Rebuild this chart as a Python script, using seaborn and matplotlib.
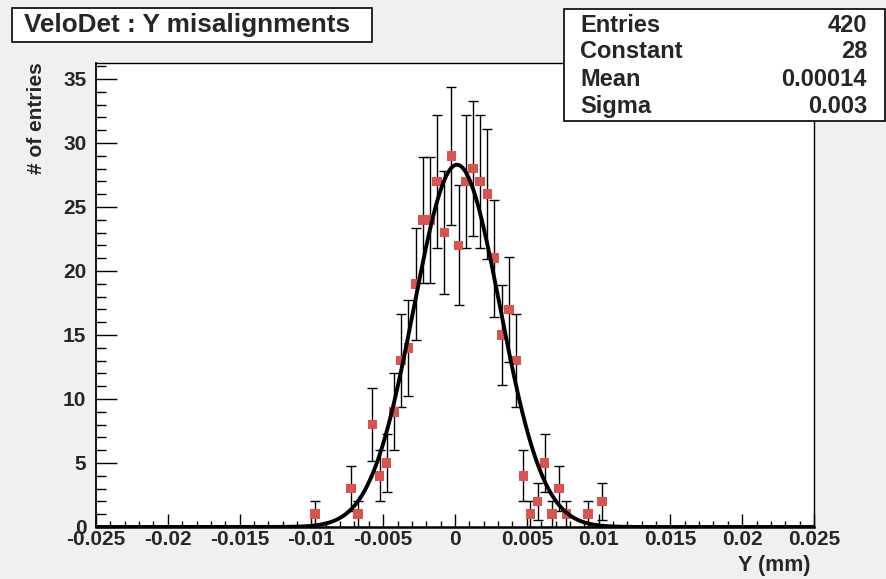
import numpy as np
import pandas as pd
import matplotlib
matplotlib.use("Agg")
import matplotlib.pyplot as plt
from matplotlib.ticker import MultipleLocator, FixedLocator, FixedFormatter
import seaborn as sns

# histogram bins that have entries (bin width 0.0005)
bin_centers = [-0.00975, -0.00725, -0.00675, -0.00575, -0.00525, -0.00475, -0.00425,
               -0.00375, -0.00325, -0.00275, -0.00225, -0.00175, -0.00125, -0.00075,
               -0.00025, 0.00025, 0.00075, 0.00125, 0.00175, 0.00225, 0.00275,
               0.00325, 0.00375, 0.00425, 0.00475, 0.00525, 0.00575, 0.00625,
               0.00675, 0.00725, 0.00775, 0.00925, 0.01025]
counts = [1, 3, 1, 8, 4, 5, 9,
          13, 14, 19, 24, 24, 27, 23,
          29, 22, 27, 28, 27, 26, 21,
          15, 17, 13, 4, 1, 2, 5,
          1, 3, 1, 1, 2]

# gaussian fit parameters (as printed in the stats box)
fit_constant = 28.3
fit_mean = 0.00014
fit_sigma = 0.003

stats_names = ["Entries", "Constant", "Mean", "Sigma"]
stats_values = ["420", "28", "0.00014", "0.003"]

xtick_values = [-0.025, -0.02, -0.015, -0.01, -0.005, 0, 0.005, 0.01, 0.015, 0.02, 0.025]
xtick_labels = ["-0.025", "-0.02", "-0.015", "-0.01", "-0.005", "0",
                "0.005", "0.01", "0.015", "0.02", "0.025"]
ytick_values = [0, 5, 10, 15, 20, 25, 30, 35]

sns.set_theme(style="ticks")
plt.rcParams['font.family'] = ['Liberation Sans', 'DejaVu Sans']
plt.rcParams['font.weight'] = 'bold'

W, H = 886, 579
fig = plt.figure(figsize=(W / 100, H / 100), dpi=100)
fig.patch.set_facecolor('#f0f0f0')

# axes box in pixels: x 96..814, y 63..527
ax = fig.add_axes([96 / W, (H - 527) / H, (814 - 96) / W, (527 - 63) / H])
ax.set_facecolor('white')

df = pd.DataFrame({'y': bin_centers, 'n': counts})
df['err'] = np.sqrt(df['n'])

# fit curve over full range
xs = np.linspace(-0.025, 0.025, 1001)
fit_df = pd.DataFrame({'y': xs,
                       'f': fit_constant * np.exp(-0.5 * ((xs - fit_mean) / fit_sigma) ** 2)})

ax.errorbar(df['y'], df['n'], yerr=df['err'], fmt='none', ecolor='black',
            elinewidth=1.0, capsize=3.5, capthick=1.0, zorder=2)
sns.scatterplot(data=df, x='y', y='n', marker='s', s=46, color='#d9534f',
                edgecolor='none', ax=ax, zorder=3)
sns.lineplot(data=fit_df, x='y', y='f', color='black', linewidth=2.8, ax=ax, zorder=4)

ax.set_xlim(-0.025, 0.025)
ax.set_ylim(0, 36.25)

ax.xaxis.set_major_locator(FixedLocator(xtick_values))
ax.xaxis.set_major_formatter(FixedFormatter(xtick_labels))
ax.xaxis.set_minor_locator(MultipleLocator(0.001))
ax.yaxis.set_major_locator(FixedLocator(ytick_values))
ax.yaxis.set_minor_locator(MultipleLocator(1))

ax.tick_params(axis='x', which='major', direction='in', length=9.5, width=1,
               labelsize=15, pad=2, color='black')
ax.tick_params(axis='x', which='minor', direction='in', length=4.5, width=1, color='black')
ax.tick_params(axis='y', which='major', direction='in', length=15, width=1,
               labelsize=15, pad=7, color='black')
ax.tick_params(axis='y', which='minor', direction='in', length=7.5, width=1, color='black')
for lab in ax.get_xticklabels() + ax.get_yticklabels():
    lab.set_fontweight('bold')

for sp in ax.spines.values():
    sp.set_visible(True)
    sp.set_color('black')
    sp.set_linewidth(1.0)
ax.spines['bottom'].set_linewidth(1.8)
ax.spines['left'].set_linewidth(1.3)

ax.set_xlabel('')
ax.set_ylabel('')
fig.text(810 / W, 1 - 566 / H, 'Y (mm)', ha='right', va='center',
         fontsize=15.5, fontweight='bold')
fig.text(37 / W, 1 - 118 / H, '# of entries', ha='center', va='center',
         rotation=90, fontsize=15, fontweight='bold')

# title box
fig.patches.append(plt.Rectangle((12 / W, 1 - 42 / H), (372 - 12) / W, (42 - 8) / H,
                                 transform=fig.transFigure, facecolor='white',
                                 edgecolor='black', linewidth=1.2, zorder=5))
fig.text(24 / W, 1 - 25 / H, 'VeloDet : Y misalignments', ha='left', va='center',
         fontsize=18.8, fontweight='bold', zorder=6)

# stats box
fig.patches.append(plt.Rectangle((564 / W, 1 - 121 / H), (885 - 564) / W, (121 - 9) / H,
                                 transform=fig.transFigure, facecolor='white',
                                 edgecolor='black', linewidth=1.2, zorder=5))
row_y = [25, 52, 80, 106]
for name, val, yy in zip(stats_names, stats_values, row_y):
    fig.text(580 / W, 1 - yy / H, name, ha='left', va='center',
             fontsize=17, fontweight='bold', zorder=6)
    fig.text(867 / W, 1 - yy / H, val, ha='right', va='center',
             fontsize=17, fontweight='bold', zorder=6)

fig.savefig('out.png', dpi=100, facecolor=fig.get_facecolor())
